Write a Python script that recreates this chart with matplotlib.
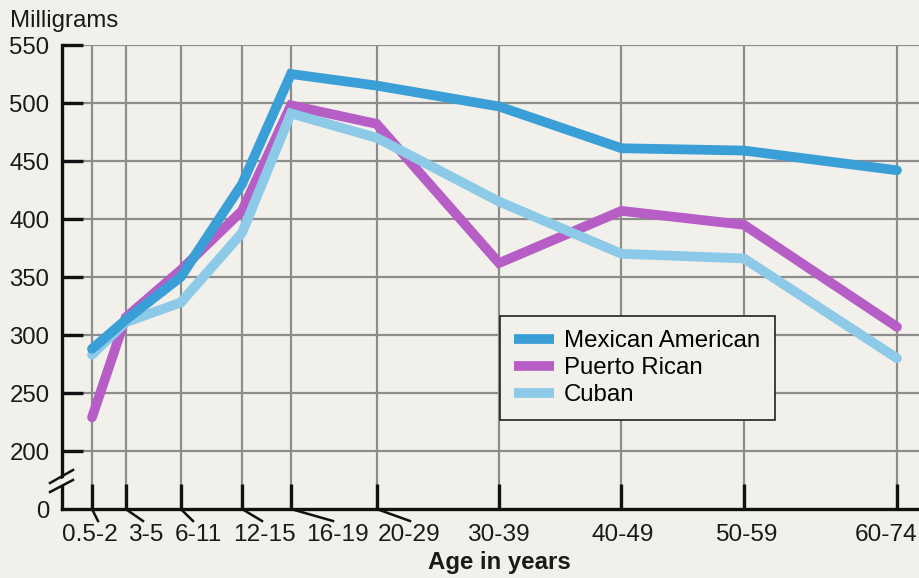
"""Calcium intake by age group for three Hispanic groups (line chart)."""
import matplotlib

matplotlib.use("Agg")
import matplotlib.pyplot as plt  # noqa: E402
from matplotlib.lines import Line2D  # noqa: E402
from matplotlib.patches import Polygon  # noqa: E402

# data (milligrams)
age_groups = ["0.5-2", "3-5", "6-11", "12-15", "16-19", "20-29",
              "30-39", "40-49", "50-59", "60-74"]
mexican_american = [288, 313, 350, 430, 525, 515, 497, 461, 459, 442]
puerto_rican = [229, 315, 356, 407, 498, 482, 362, 407, 395, 307]
cuban = [283, 311, 328, 388, 491, 470, 415, 370, 366, 280]
y_ticks = [0, 200, 250, 300, 350, 400, 450, 500, 550]

W, H = 919, 578
BG = "#f2f0eb"
FONT = "Liberation Sans"
FS = 17.3


def age_mid(label):
    lo, hi = label.split("-")
    return (float(lo) + float(hi)) / 2


def y_pos(v):
    # broken axis: 0 sits one grid step below 200
    return v if v >= 200 else 150


xs = [age_mid(a) for a in age_groups]

fig = plt.figure(figsize=(W / 100, H / 100), dpi=100, facecolor=BG)
ax = fig.add_axes([62 / W, 1 - 509 / H, 1 - 62 / W, (509 - 45) / H])
ax.set_facecolor(BG)
ax.set_xlim(-1.2, 68.8)
ax.set_ylim(150, 550)

# grid
for v in y_ticks[1:]:
    ax.axhline(v, color="#8c8c8c", lw=1.6, zorder=1)
for x in xs:
    ax.axvline(x, color="#8c8c8c", lw=1.6, zorder=1)

colors = {"Mexican American": "#3a9fd6", "Puerto Rican": "#b65ec5",
          "Cuban": "#8ccae8"}
# drawing order: Puerto Rican at the back, Mexican American on top
series = [
    ("Puerto Rican", puerto_rican),
    ("Cuban", cuban),
    ("Mexican American", mexican_american),
]
for name, vals in series:
    ax.plot(xs, [y_pos(v) for v in vals], color=colors[name], lw=7,
            solid_capstyle="round", solid_joinstyle="miter", zorder=3)

for s in ["top", "right"]:
    ax.spines[s].set_visible(False)
for s in ["left", "bottom"]:
    ax.spines[s].set_linewidth(2.4)
    ax.spines[s].set_color("#111111")
    ax.spines[s].set_zorder(4)

ax.set_yticks([y_pos(v) for v in y_ticks])
ax.set_yticklabels([str(v) for v in y_ticks], fontsize=FS, family=FONT,
                   color="#1a1a1a")
ax.tick_params(axis="y", direction="in", length=15, width=2.4,
               color="#111111", pad=9)
ax.set_xticks(xs)
ax.set_xticklabels([])
ax.tick_params(axis="x", direction="in", length=18, width=2.4,
               color="#111111")
for t in ax.yaxis.get_major_ticks()[:1]:
    t.tick1line.set_visible(False)

# x labels with slanted leaders (pixel positions of label centres)
label_px = [90, 146, 198, 264, 337, 409, 498, 623, 746, 886]
leader_px = [98, 143, 193, 262, 333, 410]
for i, lab in enumerate(age_groups):
    fig.text(label_px[i] / W, 1 - 524 / H, lab, ha="center", va="top",
             fontsize=FS + 0.3, family=FONT, color="#1a1a1a")
for i, end in enumerate(leader_px):
    x0 = 62 + (xs[i] + 1.2) / 70 * (W - 62)
    fig.add_artist(Line2D([x0 / W, end / W], [1 - 509 / H, 1 - 521 / H],
                          color="#111111", lw=1.8))

# axis break
gap = Polygon([(50 / W, 1 - 485 / H), (75 / W, 1 - 472 / H),
               (75 / W, 1 - 479 / H), (50 / W, 1 - 491 / H)],
              closed=True, facecolor=BG, edgecolor="none",
              transform=fig.transFigure, zorder=10)
fig.add_artist(gap)
for y0, y1 in [(483, 470), (492, 480)]:
    fig.add_artist(Line2D([50 / W, 73 / W], [1 - y0 / H, 1 - y1 / H],
                          color="#111111", lw=1.8, zorder=11))

fig.text(10 / W, 1 - 27 / H, "Milligrams", ha="left", va="baseline",
         fontsize=FS, family=FONT, color="#1a1a1a")
fig.text(499 / W, 1 - 569 / H, "Age in years", ha="center", va="baseline",
         fontsize=FS, family=FONT, weight="bold", color="#1a1a1a")

legend_order = ["Mexican American", "Puerto Rican", "Cuban"]
handles = [Line2D([], [], color=colors[n], lw=7, solid_capstyle="butt")
           for n in legend_order]
leg = ax.legend(handles, legend_order, loc="upper left",
                bbox_to_anchor=((500 - 62) / (W - 62), (509 - 316) / 464),
                prop={"family": FONT, "size": FS}, frameon=True,
                fancybox=False, edgecolor="#222222", facecolor=BG,
                framealpha=1, handlelength=1.65, handletextpad=0.42,
                labelspacing=0.2, borderpad=0.6, borderaxespad=0)
leg.get_frame().set_linewidth(1.2)
leg.set_zorder(6)

fig.savefig("out.png", dpi=100, facecolor=BG)
